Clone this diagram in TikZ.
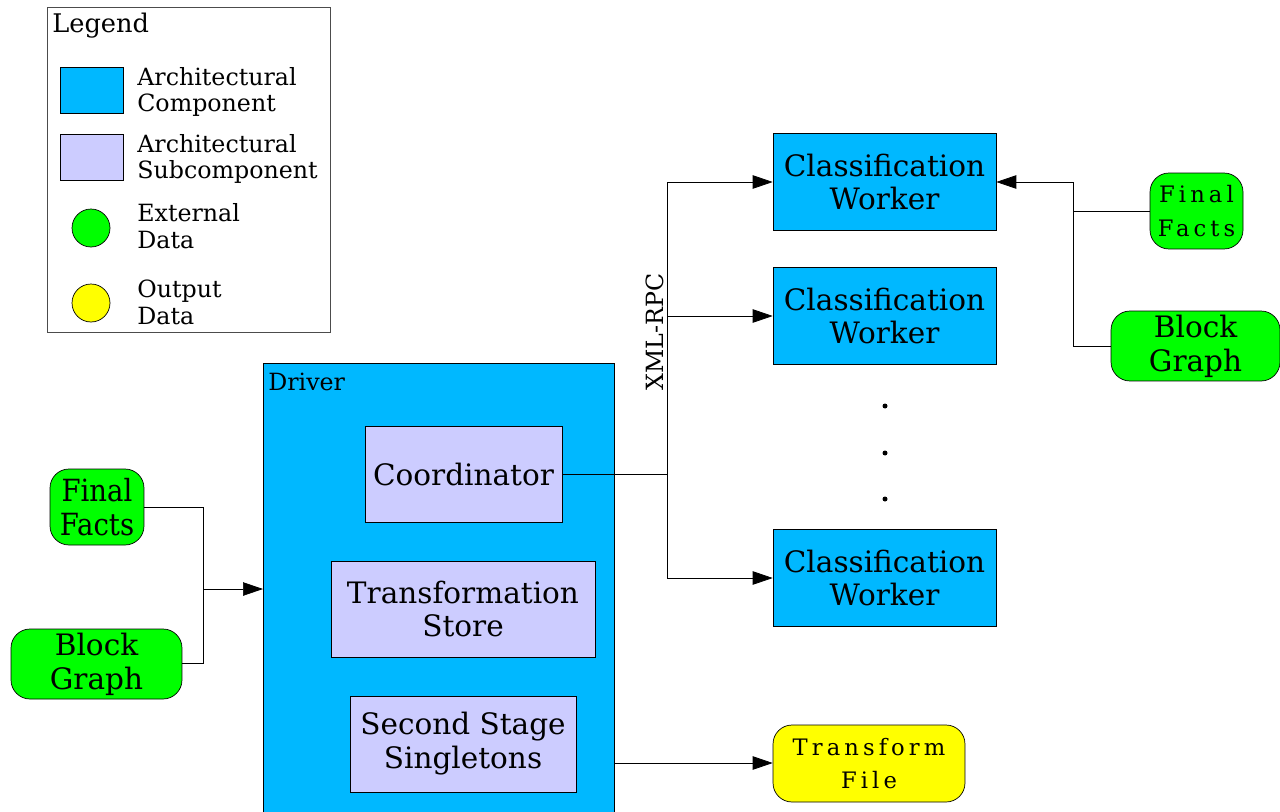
\documentclass[tikz,border=0pt]{standalone}
\usepackage{fontspec}
\setmainfont{DejaVu Serif}
\newfontfamily\vserif{DejaVu Serif}
\usetikzlibrary{arrows.meta}
\definecolor{compblue}{RGB}{0,184,255}
\definecolor{subcomp}{RGB}{204,204,255}
\definecolor{extgreen}{RGB}{0,255,0}
\definecolor{outyellow}{RGB}{255,255,0}
\def\bigtext{\vserif\fontsize{16.8}{19.3}\selectfont}
\def\smalltext{\vserif\fontsize{13.5}{15.3}\selectfont}
\def\titletext{\vserif\fontsize{14.6}{17}\selectfont}
\def\spacedtext{\vserif\fontsize{12.9}{19.3}\selectfont\addfontfeature{LetterSpace=18}}
\def\narrowtext{\vserif\fontsize{17.4}{19.3}\selectfont\addfontfeature{FakeStretch=0.9}}
\tikzset{
	comp/.style={draw, fill=compblue, inner sep=0pt, align=center, minimum width=4.46cm, minimum height=1.94cm, font=\bigtext},
	subcomp/.style={draw, fill=subcomp, inner sep=0pt, align=center, minimum height=1.92cm, font=\bigtext},
	extdata/.style={draw, fill=extgreen, rounded corners=0.38cm, inner sep=0pt, align=center},
	outdata/.style={draw, fill=outyellow, rounded corners=0.38cm, inner sep=0pt, align=center},
	legtext/.style={anchor=west, align=left, inner sep=0pt, font=\smalltext},
	arrow/.style={-{Triangle[length=0.4cm, width=0.27cm]}},
}

\begin{document}
\begin{tikzpicture}[x=0.02cm, y=-0.02cm]
			%%%%% START %%%%%
			\useasboundingbox (0,0) rectangle (1280,811);
			
			% legend
			\node[draw=black!70, anchor=north west, minimum width=5.66cm, minimum height=6.5cm] (legend) at (47,7) {};
			\node[anchor=west, inner sep=0pt, font=\titletext] (legendtitle) at (52,26) {Legend};
			\node[draw, fill=compblue, minimum width=1.26cm, minimum height=0.92cm, inner sep=0pt] (legcomp) at (91.5,90) {};
			\node[draw, fill=subcomp, minimum width=1.26cm, minimum height=0.92cm, inner sep=0pt] (legsub) at (91.5,157) {};
			\node[draw, fill=extgreen, circle, minimum size=0.76cm, inner sep=0pt] (legext) at (91,228) {};
			\node[draw, fill=outyellow, circle, minimum size=0.76cm, inner sep=0pt] (legout) at (91,303) {};
			\node[legtext] at (137,92) {Architectural\\Component};
			\node[legtext] at (137,159) {Architectural\\Subcomponent};
			\node[legtext] at (137,226) {External\\Data};
			\node[legtext] at (137,302) {Output\\Data};
			
			% driver
			\node[draw, fill=compblue, anchor=north west, minimum width=7.02cm, minimum height=9.2cm, inner sep=0pt] (driver) at (263,363) {};
			\node[anchor=west, inner sep=0pt, font=\smalltext] (drivertitle) at (268,382) {Driver};
			\node[subcomp, minimum width=3.94cm] (coord) at (463.5,474) {Coordinator};
			\node[subcomp, minimum width=5.28cm] (store) at (463,609) {Transformation\\Store};
			\node[subcomp, minimum width=4.52cm] (single) at (463,744) {Second Stage\\Singletons};
			
			% inputs of the driver
			\node[extdata, minimum width=1.88cm, minimum height=1.52cm, font=\narrowtext] (facts1) at (97,507) {Final\\Facts};
			\node[extdata, minimum width=3.42cm, minimum height=1.4cm, font=\bigtext] (graph1) at (96.5,664) {Block\\Graph};
			\coordinate (merge) at (203,589);
			\draw (facts1.east) -| (merge);
			\draw (graph1.east |- 0,663) -| (merge);
			\draw[arrow] (merge) -- (merge -| driver.west);
			
			% workers
			\node[comp] (worker1) at (884.5,182) {Classification\\Worker};
			\node[comp] (worker2) at (884.5,316) {Classification\\Worker};
			\node[comp] (worker3) at (884.5,578) {Classification\\Worker};
			\foreach \y in {406,453,499}
				\fill (885,\y) circle (0.05cm);
			
			\coordinate (bustop) at (667,182);
			\coordinate (busbot) at (667,578);
			\draw (coord.east) -- (coord.east -| bustop);
			\draw (bustop) -- (busbot);
			\draw[arrow] (bustop) -- (worker1.west);
			\draw[arrow] (bustop |- worker2.west) -- (worker2.west);
			\draw[arrow] (busbot) -- (worker3.west);
			\node[rotate=90, inner sep=0pt, font=\smalltext] (xmlrpc) at (655,332) {XML-RPC};
			
			% inputs of the workers
			\node[extdata, minimum width=1.86cm, minimum height=1.52cm, font=\spacedtext] (facts2) at (1196.5,211) {Final\\Facts};
			\node[extdata, minimum width=3.38cm, minimum height=1.4cm, font=\bigtext] (graph2) at (1195.5,346) {Block\\Graph};
			\coordinate (join) at (1073,182);
			\draw (facts2.west) -| (join);
			\draw (graph2.west) -| (join);
			\draw[arrow] (join) -- (worker1.east);
			
			% output
			\node[outdata, minimum width=3.84cm, minimum height=1.54cm, font=\spacedtext] (tfile) at (869,763.5) {Transform\\File};
			\draw[arrow] (driver.east |- 0,763) -- (tfile.west |- 0,763);
			%%%%% END %%%%%
		\end{tikzpicture}
\end{document}
